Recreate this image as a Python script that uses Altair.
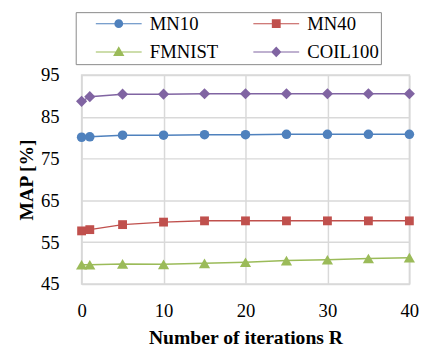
import altair as alt
import pandas as pd

iterations = [0, 1, 5, 10, 15, 20, 25, 30, 35, 40]
mn10 = [80.1, 80.2, 80.6, 80.6, 80.7, 80.7, 80.8, 80.8, 80.8, 80.8]
mn40 = [57.7, 58.0, 59.2, 59.8, 60.1, 60.1, 60.1, 60.1, 60.1, 60.1]
fmnist = [49.6, 49.6, 49.8, 49.7, 49.95, 50.2, 50.6, 50.8, 51.1, 51.3]
coil100 = [88.7, 89.8, 90.4, 90.4, 90.5, 90.5, 90.5, 90.5, 90.5, 90.5]

series_names = ["MN10", "MN40", "FMNIST", "COIL100"]
series_colors = ["#4F81BD", "#C0504D", "#9BBB59", "#8064A2"]
marker_shapes = ["circle", "square", "triangle-up", "diamond"]
marker_sizes = [95, 81, 130, 130]
y_ticks = [45, 55, 65, 75, 85, 95]
x_ticks = [0, 10, 20, 30, 40]

# legend symbols: a short line with the series marker on it (unit coordinates)
legend_paths = [
    "M-0.9,-0.1H2.9V0.1H-0.9Z M4.64,-0.1H8.44V0.1H4.64Z "
    "M2.87,0A0.9,0.9 0 1,1 4.67,0A0.9,0.9 0 1,1 2.87,0Z",
    "M-0.9,-0.1H2.87V0.1H-0.9Z M4.67,-0.1H8.44V0.1H4.67Z "
    "M2.87,-0.9H4.67V0.9H2.87Z",
    "M-0.9,-0.1H3.14V0.1H-0.9Z M4.40,-0.1H8.44V0.1H4.40Z "
    "M3.77,-1.15L4.92,0.85H2.62Z",
    "M-0.9,-0.1H2.82V0.1H-0.9Z M4.72,-0.1H8.44V0.1H4.72Z "
    "M3.77,-1.1L4.82,0L3.77,1.1L2.72,0Z",
]

rows = []
for name, vals in zip(series_names, [mn10, mn40, fmnist, coil100]):
    for x, v in zip(iterations, vals):
        rows.append({"R": x, "MAP": v, "series": name})
df = pd.DataFrame(rows)

FONT = "Liberation Serif"
GRID = "#D9D9D9"
NBSP4 = "\u00a0" * 4

color_scale = alt.Scale(domain=series_names, range=series_colors)

x_enc = alt.X(
    "R:Q",
    scale=alt.Scale(domain=[0, 40], nice=False),
    axis=alt.Axis(
        values=x_ticks, title="Number of iterations R", grid=True,
        gridColor=GRID, gridWidth=1.5, domain=False, ticks=False,
        labelFont=FONT, labelFontSize=19, labelColor="black", labelPadding=18,
        labelFlush=False,
        titleFont=FONT, titleFontSize=20, titleFontWeight="bold",
        titleColor="black", titlePadding=8,
    ),
)
y_enc = alt.Y(
    "MAP:Q",
    scale=alt.Scale(domain=[45, 95], nice=False, zero=False),
    axis=alt.Axis(
        values=y_ticks, title="MAP [%]", grid=True,
        gridColor=GRID, gridWidth=1.5, domain=False, ticks=False,
        labelFont=FONT, labelFontSize=19, labelColor="black", labelPadding=23,
        titleFont=FONT, titleFontSize=20, titleFontWeight="bold",
        titleColor="black", titlePadding=4,
    ),
)

base = alt.Chart(df)

legend_def = alt.Legend(
    title=None, orient="none", legendX=-6, legendY=-64, columns=2,
    direction="horizontal",
    strokeColor="#888888", fillColor="white", padding=2,
    symbolSize=100, symbolStrokeWidth=0, symbolOffset=13.5, symbolOpacity=1,
    labelOffset=41, labelFont=FONT, labelFontSize=19, labelColor="black",
    labelLimit=300, rowPadding=9, columnPadding=16.5,
    labelExpr=(
        "datum.label + ((datum.value == 'MN40' || datum.value == 'COIL100')"
        " ? '" + NBSP4 + "' : '')"
    ),
)

legend_layer = base.mark_point(filled=True, opacity=0).encode(
    x=x_enc, y=y_enc,
    color=alt.Color("series:N", scale=color_scale, legend=legend_def),
    shape=alt.Shape(
        "series:N",
        scale=alt.Scale(domain=series_names, range=legend_paths),
        legend=legend_def,
    ),
)

lines = base.mark_line(strokeWidth=1.5).encode(
    x=x_enc, y=y_enc,
    color=alt.Color("series:N", scale=color_scale, legend=None),
    detail="series:N",
)

point_layers = []
for name, shp, sz in zip(series_names, marker_shapes, marker_sizes):
    point_layers.append(
        base.transform_filter(alt.datum.series == name)
        .mark_point(filled=True, opacity=1, shape=shp, size=sz)
        .encode(
            x=x_enc, y=y_enc,
            color=alt.Color("series:N", scale=color_scale, legend=None),
        )
    )

chart = alt.layer(legend_layer, lines, *point_layers).properties(
    width=334, height=213,
    autosize=alt.AutoSizeParams(type="none"),
    padding={"left": 75, "top": 65, "right": 20, "bottom": 62},
).configure_view(
    stroke=GRID, strokeWidth=1.5
)

chart.save("out.html", embed_options={"renderer": "svg", "actions": False})
